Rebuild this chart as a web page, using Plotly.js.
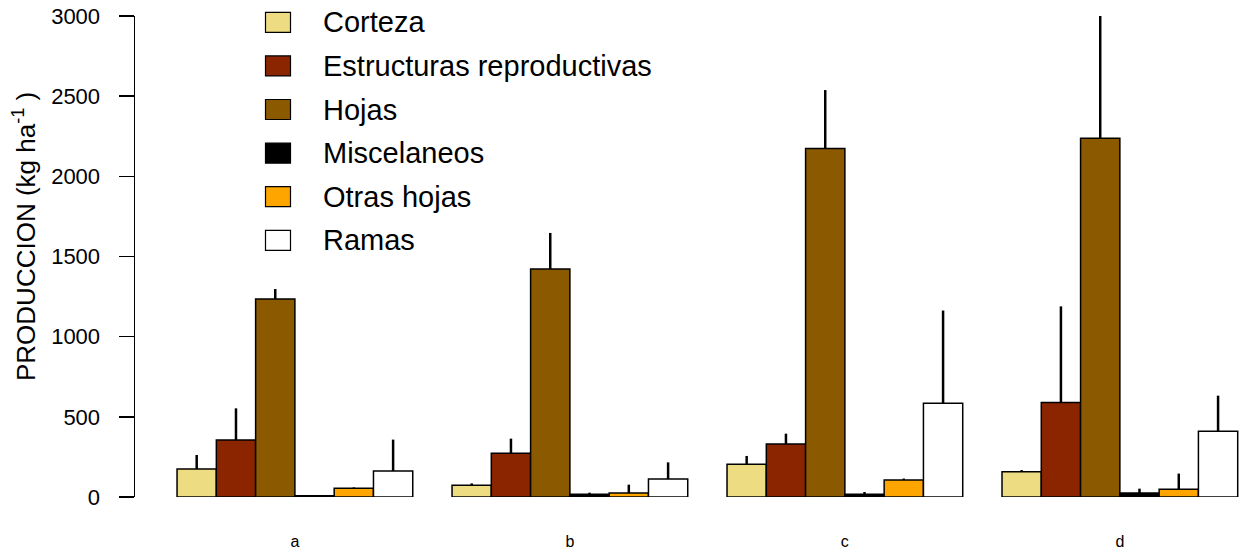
<!DOCTYPE html>
<html>
<head>
<meta charset="utf-8">
<script src="https://cdn.plot.ly/plotly-3.0.1.min.js"></script>
<style>
  html, body { margin: 0; padding: 0; background: #fff; }
  #chart { width: 1248px; height: 553px; }
</style>
</head>
<body>
<div id="chart"></div>
<script>
// ---- data ----
const groups = ['a', 'b', 'c', 'd'];
const seriesNames = ['Corteza', 'Estructuras reproductivas', 'Hojas', 'Miscelaneos', 'Otras hojas', 'Ramas'];
const corteza      = [175, 73, 204, 158];
const estructuras  = [356, 273, 331, 589];
const hojas        = [1235, 1422, 2173, 2237];
const miscelaneos  = [8, 17, 17, 25];
const otrasHojas   = [54, 25, 106, 48];
const ramas        = [162, 112, 584, 410];
// upper error amounts (error bar top minus mean)
const errCorteza     = [87, 12, 52, 10];
const errEstructuras = [197, 91, 64, 600];
const errHojas       = [62, 225, 365, 763];
const errMiscelaneos = [4, 10, 14, 27];
const errOtrasHojas  = [6, 52, 9, 98];
const errRamas       = [196, 104, 579, 222];
const yTicks = [0, 500, 1000, 1500, 2000, 2500, 3000];
const yTitle = 'PRODUCCION (kg ha<sup>-1</sup> )';

const seriesValues = [corteza, estructuras, hojas, miscelaneos, otrasHojas, ramas];
const seriesErrors = [errCorteza, errEstructuras, errHojas, errMiscelaneos, errOtrasHojas, errRamas];
const colors = ['#EEDC82', '#8B2500', '#8B5A00', '#000000', '#FFA500', '#FFFFFF'];

// ---- layout geometry (pixels) ----
const W = 1248, H = 553;
const mL = 135, mR = 0, mT = 16, mB = 56;
const plotW = W - mL - mR, plotH = H - mT - mB;
const FONT = 'Liberation Sans, Arial, Helvetica, sans-serif';

const traces = seriesNames.map((name, i) => ({
  type: 'bar',
  name: name,
  x: groups,
  y: seriesValues[i],
  marker: { color: colors[i], line: { color: '#000000', width: 1.5 } },
  error_y: {
    type: 'data', symmetric: false,
    array: seriesErrors[i],
    arrayminus: seriesValues[i].map(() => 0),
    color: '#000000', thickness: 2.5, width: 0
  },
  cliponaxis: false,
  showlegend: false,
  hoverinfo: 'x+y+name'
}));

// custom legend (boxes + labels), positioned in pixels converted to paper coords
const px2x = p => (p - mL) / plotW;
const px2y = p => (H - mB - p) / plotH;
const legendShapes = [];
const annots = [];
seriesNames.forEach((name, i) => {
  const cy = 22.3 + i * 43.6;
  legendShapes.push({
    type: 'rect', xref: 'paper', yref: 'paper',
    x0: px2x(265.5), x1: px2x(290.5), y0: px2y(cy - 10), y1: px2y(cy + 10),
    fillcolor: colors[i], line: { color: '#000000', width: 1.2 }
  });
  annots.push({
    xref: 'paper', yref: 'paper', x: px2x(321), y: px2y(cy),
    xanchor: 'left', yanchor: 'middle', showarrow: false,
    text: name, font: { family: FONT, size: 29, color: '#000000' }
  });
});
// y-axis title
annots.push({
  xref: 'paper', yref: 'paper', x: px2x(25), y: px2y(237),
  xanchor: 'center', yanchor: 'middle', showarrow: false, textangle: -90,
  text: yTitle, font: { family: FONT, size: 26, color: '#000000' }
});

const layout = {
  width: W, height: H,
  margin: { l: mL, r: mR, t: mT, b: mB, pad: 0 },
  paper_bgcolor: '#ffffff', plot_bgcolor: '#ffffff',
  barmode: 'group', bargap: 1 / 7, bargroupgap: 0,
  font: { family: FONT, color: '#000000' },
  xaxis: {
    type: 'category',
    range: [-0.5815, 3.466],
    showline: false, showgrid: false, zeroline: false,
    ticks: '', ticklabelstandoff: 33,
    tickfont: { family: FONT, size: 16, color: '#000000' },
    fixedrange: true
  },
  yaxis: {
    range: [0, 3000],
    tickvals: yTicks, ticktext: yTicks.map(String),
    showline: true, linecolor: '#000000', linewidth: 1.5,
    ticks: 'outside', ticklen: 15, tickwidth: 1.5, tickcolor: '#000000',
    ticklabelstandoff: 14,
    showgrid: false, zeroline: false,
    tickfont: { family: FONT, size: 22, color: '#000000' },
    automargin: false,
    fixedrange: true
  },
  shapes: legendShapes,
  annotations: annots
};

Plotly.newPlot('chart', traces, layout, { displayModeBar: false, staticPlot: true });
</script>
</body>
</html>
